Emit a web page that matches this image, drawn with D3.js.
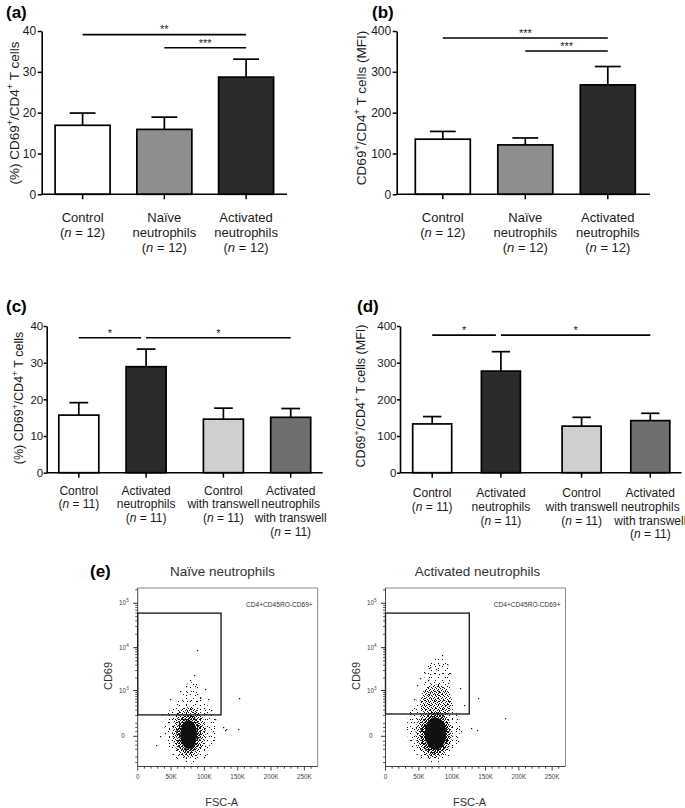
<!DOCTYPE html>
<html><head><meta charset="utf-8">
<script src="https://cdn.jsdelivr.net/npm/d3@7"></script>
<style>
html,body{margin:0;padding:0;background:#fff;}
svg{display:block;font-family:"Liberation Sans",Arial,sans-serif;}
</style></head><body>
<svg id="fig" width="685" height="808"></svg>
<script>
// ---------------- DATA ----------------
const catsAB = ["Control", "Naïve neutrophils", "Activated neutrophils"];
const linesAB = [["Control"], ["Naïve", "neutrophils"], ["Activated", "neutrophils"]];
const nAB = [12, 12, 12];
const meanA = [16.9, 15.9, 28.7];
const semA = [3.0, 3.0, 4.4];
const sigA = [["Control", "Activated neutrophils", 39.1, "**"], ["Naïve neutrophils", "Activated neutrophils", 35.9, "***"]];
const meanB = [135, 121, 268];
const semB = [19, 17, 45];
const sigB = [["Control", "Activated neutrophils", 383, "***"], ["Naïve neutrophils", "Activated neutrophils", 351, "***"]];

const catsCD = ["Control", "Activated neutrophils", "Control with transwell", "Activated neutrophils with transwell"];
const linesCD = [["Control"], ["Activated", "neutrophils"], ["Control", "with transwell"], ["Activated", "neutrophils", "with transwell"]];
const nCD = [11, 11, 11, 11];
const meanC = [15.7, 28.9, 14.6, 15.1];
const semC = [3.4, 4.8, 3.0, 2.4];
const sigC = [["Control", "Activated neutrophils", 36.8, "*"], ["Activated neutrophils", "Activated neutrophils with transwell", 36.8, "*"]];
const meanD = [133, 277, 127, 142];
const semD = [20, 53, 24, 20];
const sigD = [["Control", "Activated neutrophils", 375, "*"], ["Activated neutrophils", "Activated neutrophils with transwell", 375, "*"]];

const yTicksPct = [0, 10, 20, 30, 40];
const yTicksMFI = [0, 100, 200, 300, 400];

// flow cytometry (e)
const fscTicks = [0, 50000, 100000, 150000, 200000, 250000];
const fscTickLabels = ["0", "50K", "100K", "150K", "200K", "250K"];
const cd69Ticks = [0, 1000, 10000, 100000];
const cd69TickLabels = [["0", ""], ["10", "3"], ["10", "4"], ["10", "5"]];
// density regions: [fscLow, fscHigh, cd69Low, cd69High, density]
const naiveCloud = [
  [40000, 118000, -320, 700, "sparse"],
  [66000, 95000, 150, 1600, "sparse"],
  [52000, 102000, -220, 380, "mid"],
  [58000, 95000, -150, 220, "dense"],
  [64000, 89000, -95, 135, "solid"]
];
const activatedCloud = [
  [32000, 112000, -300, 900, "sparse"],
  [58000, 100000, 300, 6000, "sparse"],
  [52000, 100000, 150, 1400, "mid"],
  [45000, 100000, -220, 350, "mid"],
  [52000, 96000, -160, 260, "dense"],
  [59000, 91000, -105, 170, "solid"]
];
// isolated events: [fsc, cd69]
const naiveEvents = [[150000, 45], [152000, 660], [89000, 9000], [128000, 60], [131000, 40], [101000, 1080],
  [63000, 1000], [78000, 1800], [88000, 1450], [28000, -60], [33000, 0], [133000, 45], [48000, 620],
  [94000, 700], [105000, 620], [110000, 300], [116000, 150], [36000, 220], [84000, 2300], [72000, 1300]];
const activatedEvents = [[138000, 650], [179000, 170], [84000, 6900], [67000, 3700], [112000, 1130],
  [110000, 50], [113000, 35], [128000, 55], [137000, 40], [109000, -30], [47000, 1350], [52000, 2000],
  [97000, 2600], [37000, 230], [75000, 3300], [64000, 1800], [92000, 4200], [58000, 2800], [118000, 420], [42000, 600]];
const gateNaive = [0, 125000, 210, 60000];
const gateActivated = [0, 125700, 225, 60000];

// ---------------- DRAW ----------------
const svg = d3.select("#fig");
const TXT = "#1a1a1a";

const defs = svg.append("defs");
function pat(id, size, pts) {
  const p = defs.append("pattern").attr("id", id).attr("width", size).attr("height", size)
    .attr("patternUnits", "userSpaceOnUse");
  pts.forEach(q => p.append("rect").attr("x", q[0]).attr("y", q[1]).attr("width", 1).attr("height", 1)
    .attr("fill", "#111").attr("shape-rendering", "crispEdges"));
}
pat("pS1", 7, [[1, 1], [4, 5]]);
pat("pS2", 9, [[6, 2], [2, 7], [7, 8]]);
pat("pM", 4, [[0, 0], [2, 1], [3, 3], [1, 2]]);
pat("pD", 3, [[0, 0], [2, 1], [1, 2], [2, 2]]);

function supText(sel, parts, fs) {
  let prevSup = false;
  parts.forEach(p => {
    const t = sel.append("tspan").text(p[0]);
    if (p[1]) { t.attr("font-size", fs * 0.68).attr("dy", -fs * 0.42); prevSup = true; }
    else if (prevSup) { t.attr("dy", fs * 0.42); prevSup = false; }
  });
}

function barPanel(cfg) {
  const g = svg.append("g");
  const y = d3.scaleLinear().domain([0, cfg.yMax]).range(cfg.yRange);
  const xp = d3.scalePoint().domain(cfg.cats).range(cfg.centerRange).padding(0);
  const xc = c => xp(c) + (cfg.cats.indexOf(c) >= 2 ? cfg.gap : 0);

  g.selectAll("rect.bar").data(cfg.cats).join("rect")
    .attr("x", c => xc(c) - cfg.barW / 2).attr("width", cfg.barW)
    .attr("y", (c, i) => y(cfg.mean[i])).attr("height", (c, i) => y(0) - y(cfg.mean[i]))
    .attr("fill", (c, i) => cfg.fills[i]).attr("stroke", "#000").attr("stroke-width", 1.7);
  g.selectAll("line.err").data(cfg.cats).join("line")
    .attr("x1", c => xc(c)).attr("x2", c => xc(c))
    .attr("y1", (c, i) => y(cfg.mean[i])).attr("y2", (c, i) => y(cfg.mean[i] + cfg.sem[i]))
    .attr("stroke", "#000").attr("stroke-width", 1.7);
  g.selectAll("line.cap").data(cfg.cats).join("line")
    .attr("x1", c => xc(c) - cfg.barW * 0.235).attr("x2", c => xc(c) + cfg.barW * 0.235)
    .attr("y1", (c, i) => y(cfg.mean[i] + cfg.sem[i])).attr("y2", (c, i) => y(cfg.mean[i] + cfg.sem[i]))
    .attr("stroke", "#000").attr("stroke-width", 1.7);

  const ya = g.append("g").attr("transform", `translate(${cfg.axisX},0)`)
    .call(d3.axisLeft(y).tickValues(cfg.yTicks).tickSize(cfg.tickLen).tickSizeOuter(0).tickPadding(cfg.tickPad));
  ya.select(".domain").attr("stroke", "#000").attr("stroke-width", 1.6);
  ya.selectAll(".tick line").attr("stroke", "#000").attr("stroke-width", 1.5);
  ya.selectAll(".tick text").attr("font-size", cfg.tickFs).attr("fill", TXT)
    .attr("font-family", "Liberation Sans, Arial, sans-serif");
  g.append("line").attr("x1", cfg.axisX).attr("x2", cfg.axisRight).attr("y1", y(0)).attr("y2", y(0))
    .attr("stroke", "#000").attr("stroke-width", 1.6);
  g.selectAll("line.xt").data(cfg.cats).join("line")
    .attr("x1", c => xc(c)).attr("x2", c => xc(c)).attr("y1", y(0)).attr("y2", y(0) + 5)
    .attr("stroke", "#000").attr("stroke-width", 1.5);
  cfg.cats.forEach((c, i) => {
    const lines = cfg.lines[i].concat(["__n"]);
    lines.forEach((ln, j) => {
      const t = g.append("text").attr("x", xc(c)).attr("y", cfg.labelY0 + j * cfg.lineH)
        .attr("text-anchor", "middle").attr("font-size", cfg.fs).attr("fill", TXT);
      if (ln === "__n") {
        t.append("tspan").text("(");
        t.append("tspan").attr("font-style", "italic").text("n");
        t.append("tspan").text(" = " + cfg.n[i] + ")");
      } else t.text(ln);
    });
  });
  const starts = cfg.sig.map(s => s[0]);
  cfg.sig.forEach(s => {
    const x1 = xc(s[0]);
    const x2 = xc(s[1]) - (starts.includes(s[1]) ? 5 : 0);
    const yy = y(s[2]);
    g.append("line").attr("x1", x1).attr("x2", x2).attr("y1", yy).attr("y2", yy)
      .attr("stroke", "#000").attr("stroke-width", 1.6);
    g.append("text").attr("x", (x1 + x2) / 2).attr("y", yy - 1.2).attr("text-anchor", "middle")
      .attr("font-size", 11).attr("fill", TXT).text(s[3]);
  });
  const yt = g.append("text").attr("transform", `translate(${cfg.titleX},${cfg.titleY}) rotate(-90)`)
    .attr("text-anchor", "middle").attr("font-size", cfg.titleFs).attr("fill", TXT);
  supText(yt, cfg.title, cfg.titleFs);
  g.append("text").attr("x", cfg.panelX).attr("y", cfg.panelY).attr("font-size", 17)
    .attr("font-weight", "bold").attr("fill", "#000").text(cfg.panel);
}

const titlePct = [["(%) CD69", false], ["+", true], ["/CD4", false], ["+", true], [" T cells", false]];
const titleMFI = [["CD69", false], ["+", true], ["/CD4", false], ["+", true], [" T cells (MFI)", false]];
const fillsAB = ["#ffffff", "#8e8e8e", "#2b2b2b"];
const fillsCD = ["#ffffff", "#2b2b2b", "#cfcfcf", "#6f6f6f"];

barPanel({ cats: catsAB, lines: linesAB, n: nAB, mean: meanA, sem: semA, sig: sigA, fills: fillsAB,
  yMax: 40, yTicks: yTicksPct, yRange: [194.3, 31], centerRange: [82.6, 246.1], gap: 0, barW: 55,
  axisX: 41.7, axisRight: 287, tickFs: 12, tickLen: 4, tickPad: 1.5, fs: 13, labelY0: 221.5, lineH: 15.3,
  title: titlePct, titleFs: 13.5, titleX: 18.5, titleY: 113, panel: "(a)", panelX: 6, panelY: 18 });
barPanel({ cats: catsAB, lines: linesAB, n: nAB, mean: meanB, sem: semB, sig: sigB, fills: fillsAB,
  yMax: 400, yTicks: yTicksMFI, yRange: [194.3, 31], centerRange: [442.8, 607.8], gap: 0, barW: 55,
  axisX: 396.7, axisRight: 650, tickFs: 12, tickLen: 4, tickPad: 1.5, fs: 13, labelY0: 221.5, lineH: 15.3,
  title: titleMFI, titleFs: 13.5, titleX: 366, titleY: 108, panel: "(b)", panelX: 372, panelY: 18 });
barPanel({ cats: catsCD, lines: linesCD, n: nCD, mean: meanC, sem: semC, sig: sigC, fills: fillsCD,
  yMax: 40, yTicks: yTicksPct, yRange: [472.7, 326], centerRange: [78.8, 280.7], gap: 10, barW: 40,
  axisX: 46.7, axisRight: 322.7, tickFs: 11.5, tickLen: 3, tickPad: 0.5, fs: 12, labelY0: 494.5, lineH: 13.8,
  title: titlePct, titleFs: 12.5, titleX: 23, titleY: 398, panel: "(c)", panelX: 6, panelY: 312 });
barPanel({ cats: catsCD, lines: linesCD, n: nCD, mean: meanD, sem: semD, sig: sigD, fills: fillsCD,
  yMax: 400, yTicks: yTicksMFI, yRange: [472.7, 326], centerRange: [432.2, 638.3], gap: 12, barW: 39,
  axisX: 400, axisRight: 681.5, tickFs: 11.5, tickLen: 3, tickPad: 0.5, fs: 12, labelY0: 497, lineH: 13.8,
  title: titleMFI, titleFs: 12.5, titleX: 365, titleY: 396, panel: "(d)", panelX: 357, panelY: 312 });

// ---- (e) flow plots ----
function flowPlot(cfg) {
  const g = svg.append("g");
  const x = d3.scaleLinear().domain([0, 270000]).range([cfg.x0, cfg.x0 + 180]);
  const y = d3.scaleSymlog().constant(104).domain([-391, 219900]).range([766.5, 588]);
  const X1 = cfg.x0 + 180, Y0 = 588, Y1 = 766.5;

  const fills = { sparse: ["url(#pS1)", "url(#pS2)"], mid: ["url(#pM)"], dense: ["url(#pD)"], solid: ["#111"] };
  cfg.cloud.forEach(c => {
    const xa = x(c[0]), xb = x(c[1]), ya = y(c[3]), yb = y(c[2]);
    fills[c[4]].forEach(f => g.append("ellipse").attr("cx", (xa + xb) / 2).attr("cy", (ya + yb) / 2)
      .attr("rx", (xb - xa) / 2).attr("ry", (yb - ya) / 2).attr("fill", f));
  });
  g.selectAll("rect.ev").data(cfg.events).join("rect")
    .attr("x", d => Math.round(x(d[0]))).attr("y", d => Math.round(y(d[1])))
    .attr("width", 1.2).attr("height", 1.2).attr("fill", "#111");

  g.append("line").attr("x1", cfg.x0).attr("x2", X1).attr("y1", Y0).attr("y2", Y0).attr("stroke", "#8a8a8a");
  g.append("line").attr("x1", X1).attr("x2", X1).attr("y1", Y0).attr("y2", Y1).attr("stroke", "#8a8a8a");
  g.append("line").attr("x1", cfg.x0).attr("x2", cfg.x0).attr("y1", Y0).attr("y2", Y1).attr("stroke", "#444");
  g.append("line").attr("x1", cfg.x0).attr("x2", X1).attr("y1", Y1).attr("y2", Y1).attr("stroke", "#444");

  const gt = cfg.gate;
  g.append("rect").attr("x", x(gt[0])).attr("y", y(gt[3])).attr("width", x(gt[1]) - x(gt[0]))
    .attr("height", y(gt[2]) - y(gt[3])).attr("fill", "none").attr("stroke", "#222").attr("stroke-width", 1.4);
  g.append("text").attr("x", X1 - 5).attr("y", 607).attr("text-anchor", "end").attr("font-size", 6.6)
    .attr("fill", "#333").text("CD4+CD45RO-CD69+");

  g.selectAll("line.xm").data(d3.range(0, 260001, 10000)).join("line")
    .attr("x1", d => x(d)).attr("x2", d => x(d)).attr("y1", Y1)
    .attr("y2", d => Y1 + (d % 50000 === 0 ? 4 : 2.2)).attr("stroke", "#333").attr("stroke-width", 0.9);
  g.selectAll("text.xl").data(fscTicks).join("text")
    .attr("x", d => x(d)).attr("y", 779).attr("text-anchor", "middle").attr("font-size", 6.3)
    .attr("fill", "#444").text((d, i) => fscTickLabels[i]);
  const minor = [-300, -200, -100, -60, -30, 30, 60];
  [100, 1000, 10000].forEach(dec => d3.range(1, 10).forEach(k => minor.push(k * dec)));
  minor.push(200000);
  g.selectAll("line.ym").data(minor).join("line")
    .attr("x1", cfg.x0).attr("x2", cfg.x0 - 2.5).attr("y1", d => y(d)).attr("y2", d => y(d))
    .attr("stroke", "#333").attr("stroke-width", 0.8);
  g.selectAll("line.yM").data(cd69Ticks).join("line")
    .attr("x1", cfg.x0).attr("x2", cfg.x0 - 4.5).attr("y1", d => y(d)).attr("y2", d => y(d))
    .attr("stroke", "#333").attr("stroke-width", 1);
  cd69Ticks.forEach((d, i) => {
    const t = g.append("text").attr("x", cfg.x0 - (i === 0 ? 13 : 9)).attr("y", y(d) + 2.2)
      .attr("text-anchor", "end").attr("font-size", 6.3).attr("fill", "#444");
    t.append("tspan").text(cd69TickLabels[i][0]);
    if (cd69TickLabels[i][1]) t.append("tspan").attr("font-size", 4.6).attr("dy", -3).text(cd69TickLabels[i][1]);
  });

  g.append("text").attr("x", cfg.titleX).attr("y", 576).attr("text-anchor", "middle")
    .attr("font-size", 13.5).attr("fill", "#333").text(cfg.title);
  g.append("text").attr("transform", `translate(${cfg.x0 - 26},676) rotate(-90)`)
    .attr("text-anchor", "middle").attr("font-size", 11).attr("fill", "#333").text("CD69");
  g.append("text").attr("x", cfg.x0 + 84).attr("y", 806).attr("text-anchor", "middle")
    .attr("font-size", 11).attr("fill", "#333").text("FSC-A");
}

flowPlot({ x0: 137.7, cloud: naiveCloud, events: naiveEvents, gate: gateNaive, title: "Naïve neutrophils", titleX: 222.5 });
flowPlot({ x0: 385.5, cloud: activatedCloud, events: activatedEvents, gate: gateActivated, title: "Activated neutrophils", titleX: 477.5 });
svg.append("text").attr("x", 90).attr("y", 577).attr("font-size", 17).attr("font-weight", "bold").text("(e)");
</script>
</body></html>
